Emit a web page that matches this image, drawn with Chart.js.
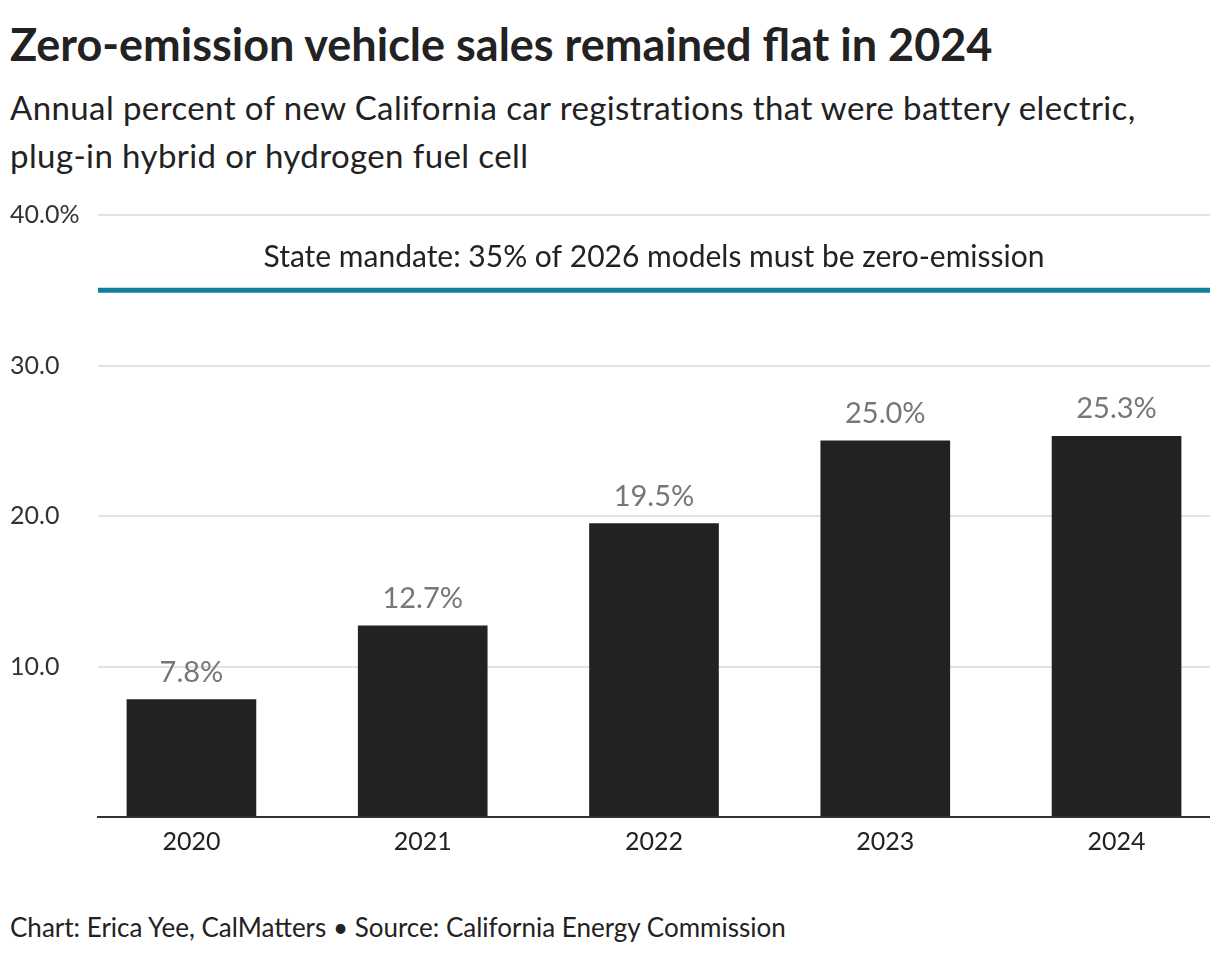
<!DOCTYPE html>
<html>
<head>
<meta charset="utf-8">
<script src="https://cdn.jsdelivr.net/npm/chart.js@4"></script>
<style>
  body { margin: 0; background: #fff; font-family: Lato, sans-serif; color: #222; }
  #title { position: absolute; left: 10px; top: 16px; font-size: 45px; line-height: 56px; font-weight: bold; white-space: nowrap; }
  #sub { position: absolute; left: 10px; top: 83px; font-size: 33px; line-height: 48px; letter-spacing: 0.4px; width: 1200px; }
  #foot { position: absolute; left: 10px; top: 911px; font-size: 26px; line-height: 32px; }
  #wrap { position: absolute; left: 10px; top: 190px; width: 1200px; height: 669px; }
</style>
</head>
<body>
<div id="title">Zero-emission vehicle sales remained flat in 2024</div>
<div id="sub">Annual percent of new California car registrations that were battery electric, plug-in hybrid or hydrogen fuel cell</div>
<div id="wrap"><canvas id="myChart"></canvas></div>
<div id="foot">Chart: Erica Yee, CalMatters • Source: California Energy Commission</div>
<script>
  // data
  const years = ['2020', '2021', '2022', '2023', '2024'];
  const zevShare = [7.8, 12.7, 19.5, 25.0, 25.3];
  const yTicks = [0, 10, 20, 30, 40];
  const mandateValue = 35;
  const mandateText = 'State mandate: 35% of 2026 models must be zero-emission';

  const extras = {
    id: 'extras',
    afterDatasetsDraw(chart) {
      const ctx = chart.ctx;
      const area = chart.chartArea;
      const y = chart.scales.y;
      // mandate line
      const my = y.getPixelForValue(mandateValue);
      ctx.save();
      ctx.strokeStyle = '#0e7f9c';
      ctx.lineWidth = 5;
      ctx.beginPath();
      ctx.moveTo(area.left, my);
      ctx.lineTo(area.right, my);
      ctx.stroke();
      ctx.fillStyle = '#222';
      ctx.font = '30px Lato';
      ctx.textAlign = 'center';
      ctx.textBaseline = 'alphabetic';
      ctx.fillText(mandateText, (area.left + area.right) / 2, my - 23);
      // value labels
      const meta = chart.getDatasetMeta(0);
      ctx.fillStyle = '#777';
      ctx.font = '29px Lato';
      meta.data.forEach((bar, i) => {
        ctx.fillText(zevShare[i].toFixed(1) + '%', bar.x, bar.y - 18);
      });
      ctx.restore();
    }
  };

  const config = {
    type: 'bar',
    data: {
      datasets: [{
        data: zevShare.map((v, i) => ({ x: i, y: v })),
        backgroundColor: '#222222',
        barThickness: 129
      }]
    },
    options: {
      responsive: true,
      maintainAspectRatio: false,
      animation: false,
      layout: { padding: { top: 8, right: 0 } },
      plugins: { legend: { display: false }, tooltip: { enabled: false } },
      scales: {
        x: {
          type: 'linear',
          min: -0.404,
          max: years.length - 1 + 0.404,
          offset: false,
          afterBuildTicks: (axis) => { axis.ticks = years.map((_, i) => ({ value: i })); },
          grid: { display: false },
          border: { color: '#333', width: 2 },
          ticks: {
            color: '#222',
            font: { family: 'Lato', size: 25 },
            padding: 2,
            callback: (v) => years[v]
          }
        },
        y: {
          min: 0,
          max: 40,
          afterBuildTicks: (axis) => { axis.ticks = yTicks.map(v => ({ value: v })); },
          afterFit: (axis) => { axis.width = 88; },
          border: { display: false },
          grid: {
            color: (c) => c.tick && c.tick.value === 0 ? 'rgba(0,0,0,0)' : '#e2e2e2',
            lineWidth: 2,
            drawTicks: false
          },
          ticks: {
            crossAlign: 'far',
            padding: 10,
            color: '#333',
            font: { family: 'Lato', size: 25 },
            callback: (v) => v === 0 ? '' : (v === 40 ? v.toFixed(1) + '%' : v.toFixed(1))
          }
        }
      }
    },
    plugins: [extras]
  };

  const myChart = new Chart(document.getElementById('myChart'), config);
</script>
</body>
</html>
